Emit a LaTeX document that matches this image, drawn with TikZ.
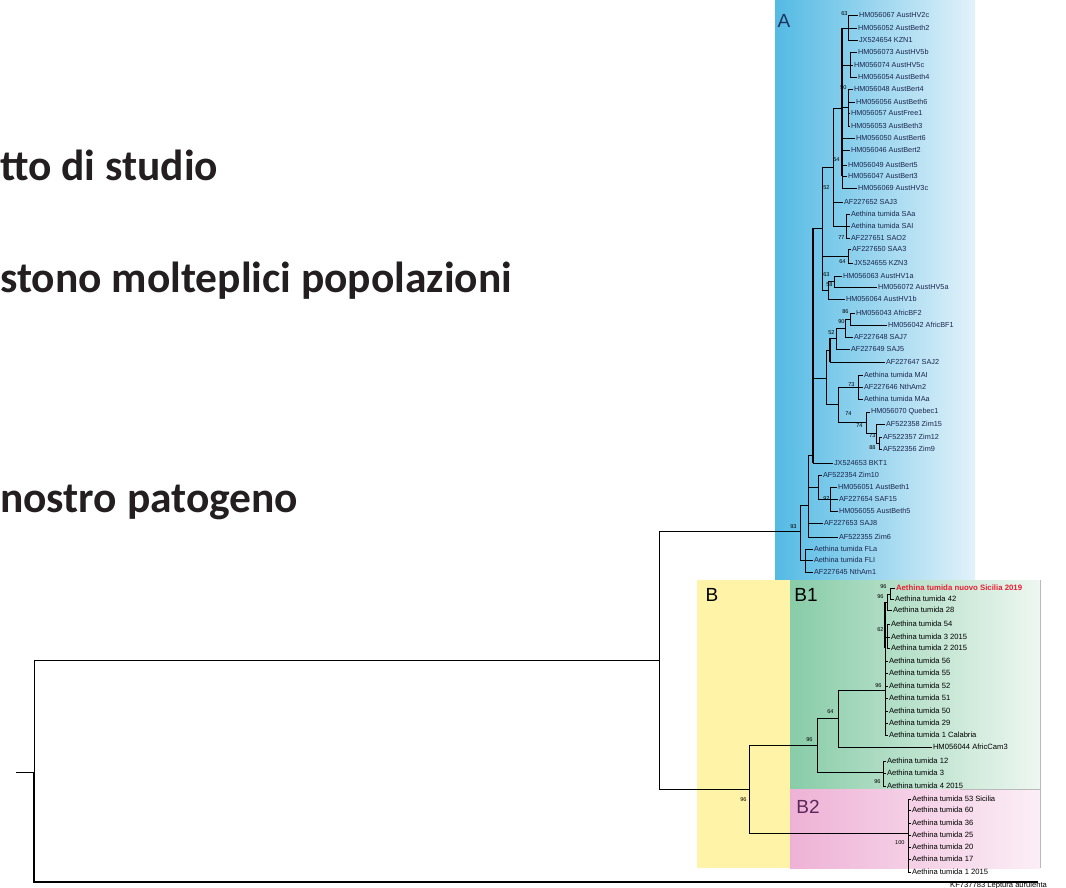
\documentclass[tikz,border=0pt]{standalone}
\usepackage{fontspec}
\setmainfont{Liberation Sans}
\newfontfamily\headfont{Carlito}
\usetikzlibrary{positioning}

\definecolor{bluedeep}{RGB}{84,186,228}
\definecolor{bluepale}{RGB}{226,242,250}
\definecolor{yellowB}{RGB}{255,243,168}
\definecolor{greendeep}{RGB}{136,204,168}
\definecolor{greenpale}{RGB}{238,247,241}
\definecolor{pinkdeep}{RGB}{238,178,214}
\definecolor{pinkpale}{RGB}{251,238,246}
\definecolor{tipnavy}{RGB}{28,38,78}
\definecolor{labA}{RGB}{30,52,96}
\definecolor{labB2}{RGB}{92,40,92}
\definecolor{headgray}{RGB}{35,31,32}
\definecolor{newred}{RGB}{232,30,48}

\tikzset{
  branch/.style={line width=0.8pt, black},
  backbone/.style={line width=1.7pt, black},
  tipA/.style={anchor=west, inner sep=0.8pt, text=tipnavy, font=\fontsize{7.3}{8}\selectfont},
  tipB/.style={anchor=west, inner sep=0.8pt, font=\fontsize{7.6}{8}\selectfont},
  boot/.style={anchor=east, inner sep=0.3pt, font=\fontsize{5.6}{6}\selectfont},
  cladelbl/.style={inner sep=0pt, font=\fontsize{19}{19}\selectfont},
  headline/.style={anchor=base west, inner sep=0pt, text=headgray, font=\headfont\bfseries\fontsize{43.5}{44}\selectfont},
}

\begin{document}
\begin{tikzpicture}[x=1pt,y=-1pt]
\useasboundingbox (0,0) rectangle (1066,888);

% coloured clade panels
\fill[left color=bluedeep, right color=bluepale] (775,0) rectangle (975,579);
\fill[yellowB] (697,580) rectangle (790,868);
\fill[left color=greendeep, right color=greenpale] (790,580) rectangle (1040,789);
\fill[left color=pinkdeep, right color=pinkpale] (790,789) rectangle (1040,868);
\draw[gray!55, line width=0.5pt] (1040,580) -- (1040,868);
\draw[gray!55, line width=0.5pt] (960,789) -- (1040,789);

\node[cladelbl, text=labA] (labelA) at (784,21) {A};
\node[cladelbl] (labelB) at (712,595) {B};
\node[cladelbl] (labelB1) at (806,595) {B1};
\node[cladelbl, text=labB2] (labelB2) at (808,807) {B2};

% slide text
\node[headline] (line1) at (0,180) {tto di studio};
\node[headline] (line2) at (0,292) {stono molteplici popolazioni};
\node[headline] (line3) at (0,512) {nostro patogeno};

% tips of clade A
\foreach \n/\x/\y/\t in {
  a1/858/15/{HM056067 AustHV2c}, a2/857/28/{HM056052 AustBeth2},
  a3/858/40/{JX524654 KZN1}, a4/857/52/{HM056073 AustHV5b},
  a5/853/65/{HM056074 AustHV5c}, a6/857/77/{HM056054 AustBeth4},
  a7/853/89/{HM056048 AustBert4}, a8/855/102/{HM056056 AustBeth6},
  a9/850/113/{HM056057 AustFree1}, a10/850/126/{HM056053 AustBeth3},
  a11/855/138/{HM056050 AustBert6}, a12/850/150/{HM056046 AustBert2},
  a13/847/165/{HM056049 AustBert5}, a14/847/176/{HM056047 AustBert3},
  a15/857/188/{HM056069 AustHV3c}, a16/843/202/{AF227652 SAJ3},
  a17/850/214/{Aethina tumida SAa}, a18/850/226/{Aethina tumida SAI},
  a19/850/238/{AF227651 SAO2}, a20/851/249/{AF227650 SAA3},
  a21/853/263/{JX524655 KZN3}, a22/842/276/{HM056063 AustHV1a},
  a23/877/287/{HM056072 AustHV5a}, a24/845/299/{HM056064 AustHV1b},
  a25/855/313/{HM056043 AfricBF2}, a26/887/325/{HM056042 AfricBF1},
  a27/853/337/{AF227648 SAJ7}, a28/850/349/{AF227649 SAJ5},
  a29/885/362/{AF227647 SAJ2}, a30/863/375/{Aethina tumida MAI},
  a31/863/387/{AF227646 NthAm2}, a32/863/399/{Aethina tumida MAa},
  a33/870/412/{HM056070 Quebec1}, a34/885/424/{AF522358 Zim15},
  a35/882/437/{AF522357 Zim12}, a36/882/449/{AF522356 Zim9},
  a37/833/463/{JX524653 BKT1}, a38/822/475/{AF522354 Zim10},
  a39/837/487/{HM056051 AustBeth1}, a40/838/499/{AF227654 SAF15},
  a41/838/511/{HM056055 AustBeth5}, a42/823/523/{AF227653 SAJ8},
  a43/838/537/{AF522355 Zim6}, a44/813/549/{Aethina tumida FLa},
  a45/813/560/{Aethina tumida FLI}, a46/813/572/{AF227645 NthAm1}}
  \node[tipA] (\n) at (\x,\y) {\t};

% tips of clade B
\node[tipB, text=newred, font=\bfseries\fontsize{7.8}{8}\selectfont] (b1) at (895,588) {Aethina tumida nuovo Sicilia 2019};
\foreach \n/\x/\y/\t in {
  b2/894/599/{Aethina tumida 42}, b3/892/610/{Aethina tumida 28},
  b4/890/624/{Aethina tumida 54}, b5/890/637/{Aethina tumida 3 2015},
  b6/890/648/{Aethina tumida 2 2015}, b7/888/661/{Aethina tumida 56},
  b8/888/673/{Aethina tumida 55}, b9/888/686/{Aethina tumida 52},
  b10/888/698/{Aethina tumida 51}, b11/888/711/{Aethina tumida 50},
  b12/888/723/{Aethina tumida 29}, b13/888/735/{Aethina tumida 1 Calabria},
  b14/932/747/{HM056044 AfricCam3}, b15/886/761/{Aethina tumida 12},
  b16/886/773/{Aethina tumida 3}, b17/886/786/{Aethina tumida 4 2015},
  b18/911/799/{Aethina tumida 53 Sicilia}, b19/911/810/{Aethina tumida 60},
  b20/911/823/{Aethina tumida 36}, b21/911/835/{Aethina tumida 25},
  b22/911/847/{Aethina tumida 20}, b23/911/859/{Aethina tumida 17},
  b24/911/872/{Aethina tumida 1 2015}}
  \node[tipB] (\n) at (\x,\y) {\t};
\node[inner sep=0pt, anchor=west, font=\fontsize{7.6}{8}\selectfont] (outgroup) at (950,886) {KF737783 Leptura aurulenta};

% internal nodes
\coordinate (stub) at (16,772);
\coordinate (nR) at (34,772);
\coordinate (og) at (1038,882);
\coordinate (n0) at (659,660);
\coordinate (nA) at (800,531);
\coordinate (nFL) at (805,560);
\coordinate (n1) at (808,505);
\coordinate (n2) at (813,455);
\coordinate (n92p) at (818,487);
\coordinate (n92) at (830,499);
\coordinate (nL3) at (822,228);
\coordinate (nL2) at (833,167);
\coordinate (nL1) at (842,108);
\coordinate (nG63) at (848,28);
\coordinate (nG5b) at (850,65);
\coordinate (nG50) at (848,107);
\coordinate (nG77) at (846,226);
\coordinate (nG64) at (848,256);
\coordinate (nG58) at (828,290);
\coordinate (nG63b) at (834,281);
\coordinate (nGm) at (826,378);
\coordinate (nGs4) at (830,350);
\coordinate (nGs3) at (836,338);
\coordinate (nGs2) at (845,328);
\coordinate (nGs1) at (850,319);
\coordinate (nG74) at (838,404);
\coordinate (nG73) at (858,387);
\coordinate (nG74b) at (866,422);
\coordinate (nG73b) at (876,433);
\coordinate (nG88) at (879,443);
\coordinate (nB) at (749,789);
\coordinate (nB1) at (817,745);
\coordinate (nB2) at (908,833);
\coordinate (nB1a) at (838,718);
\coordinate (nB1c) at (883,772);
\coordinate (nB1p) at (885,690);
\coordinate (nR2) at (887,602);
\coordinate (nR1) at (890,594);
\coordinate (n62) at (887,637);

% branches
\draw[branch] (stub) -- (nR);
\draw[line width=1.8pt] (nR) |- (og);
\foreach \p/\c in {nR/n0, n0/nA, n0/nB,
  nA/nFL, nA/n1, nFL/a44.west, nFL/a45.west, nFL/a46.west,
  n1/n2, n1/n92p, n1/a42.west, n1/a43.west,
  n92p/a38.west, n92p/n92, n92/a39.west, n92/a40.west, n92/a41.west,
  n2/nL3, n2/nGm, n2/a37.west,
  nL3/nL2, nL3/nG64, nL3/nG58,
  nL2/nL1, nL2/a16.west, nL2/nG77,
  nL1/nG63, nL1/nG5b, nL1/nG50, nL1/a11.west, nL1/a12.west,
  nL1/a13.west, nL1/a14.west, nL1/a15.west,
  nG63/a1.west, nG63/a2.west, nG63/a3.west,
  nG5b/a4.west, nG5b/a5.west, nG5b/a6.west,
  nG50/a7.west, nG50/a8.west, nG50/a9.west, nG50/a10.west,
  nG77/a17.west, nG77/a18.west, nG77/a19.west,
  nG64/a20.west, nG64/a21.west,
  nG58/nG63b, nG58/a24.west, nG63b/a22.west, nG63b/a23.west,
  nGm/nGs4, nGm/nG74, nGs4/nGs3, nGs4/a29.west, nGs3/nGs2, nGs3/a28.west,
  nGs2/nGs1, nGs2/a27.west, nGs1/a25.west, nGs1/a26.west,
  nG74/nG73, nG74/nG74b, nG73/a30.west, nG73/a31.west, nG73/a32.west,
  nG74b/a33.west, nG74b/nG73b, nG73b/a34.west, nG73b/nG88,
  nG88/a35.west, nG88/a36.west,
  nB/nB1, nB/nB2, nB1/nB1a, nB1/nB1c,
  nB1c/b15.west, nB1c/b16.west, nB1c/b17.west,
  nB1a/nB1p, nB1a/b14.west,
  nB1p/nR2, nB1p/n62, nB1p/b7.west, nB1p/b8.west, nB1p/b9.west,
  nB1p/b10.west, nB1p/b11.west, nB1p/b12.west, nB1p/b13.west,
  nR2/nR1, nR2/b3.west, nR1/b1.west, nR1/b2.west,
  n62/b4.west, n62/b5.west, n62/b6.west,
  nB2/b18.west, nB2/b19.west, nB2/b20.west, nB2/b21.west,
  nB2/b22.west, nB2/b23.west, nB2/b24.west}
  \draw[branch] (\p) |- (\c);
\draw[backbone] (nL1 |- nG63) -- (nL1 |- a14.west);
\draw[backbone] (n2 |- nL3) -- (n2 |- a37.west);
\draw[line width=1.3pt] (nGs4 |- nGs3) -- (nGs4 |- a29.west);
\draw[line width=1.4pt] (nB1p |- nR2) -- (nB1p |- b6.west);

% bootstrap values
\foreach \x/\y/\v [count=\i] in {
  848/14/63, 847/88/50, 840/160/54, 830/188/52, 845/238/77,
  846/262/64, 830/275/63, 833/285/58, 849/312/86, 845/322/90,
  835/333/52, 855/385/73, 852/414/74, 863/426/74, 876/436/73,
  876/448/88, 830/499/92, 797/527/93,
  887/587/96, 884/597/96, 884/630/62, 882/686/96, 834/712/64,
  813/740/96, 881/782/96, 747/800/96, 905/843/100}
  \node[boot] (bs\i) at (\x,\y) {\v};
\end{tikzpicture}
\end{document}
